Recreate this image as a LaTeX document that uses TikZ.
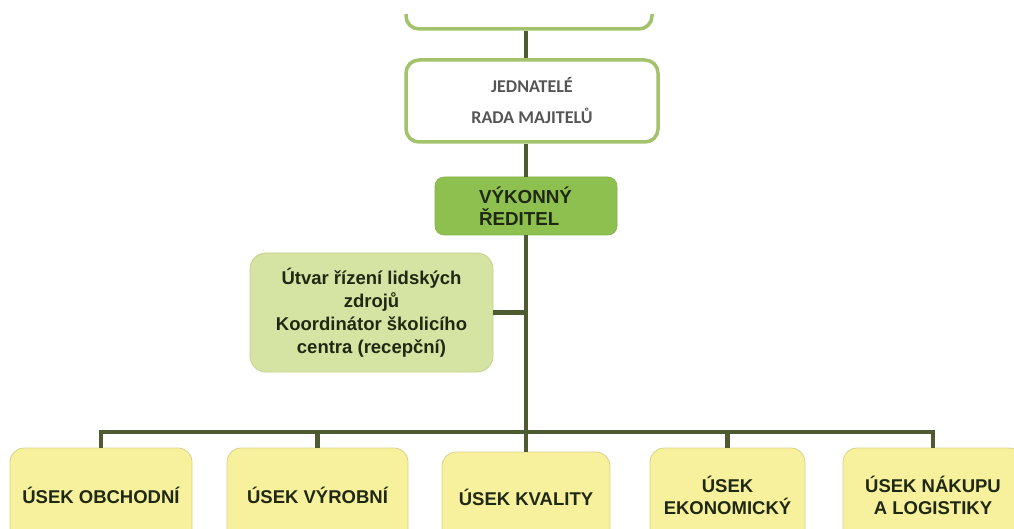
\documentclass[tikz,border=0pt]{standalone}
\usepackage{fontspec}
\setmainfont{Liberation Sans}
\newfontfamily\carlitofont{Carlito}
\definecolor{lineC}{HTML}{4E5B31}
\definecolor{topborder}{HTML}{A2C36A}
\definecolor{ceofill}{HTML}{8DC04F}
\definecolor{ceoborder}{HTML}{82B245}
\definecolor{ceotext}{HTML}{1F2912}
\definecolor{hrfill}{HTML}{D5E3A3}
\definecolor{hrborder}{HTML}{C2D48C}
\definecolor{yfill}{HTML}{F7F09C}
\definecolor{yborder}{HTML}{D8D28A}
\definecolor{graytext}{HTML}{555555}
\tikzset{
  conn/.style={draw=lineC, line width=4.5pt},
  whitebox/.style={draw=topborder, line width=3.5pt, fill=white, rounded corners=13pt, inner sep=0pt},
  ceobox/.style={draw=ceoborder, line width=0.6pt, fill=ceofill, rounded corners=9pt, inner sep=0pt,
     font=\fontsize{18.8}{22}\selectfont\bfseries, text=ceotext, align=left},
  hrbox/.style={draw=hrborder, line width=0.8pt, fill=hrfill, rounded corners=16pt, inner sep=0pt,
     font=\fontsize{18.5}{23}\selectfont\bfseries, text=ceotext, align=center},
  ybox/.style={draw=yborder, line width=0.8pt, fill=yfill, rounded corners=14pt, inner sep=0pt,
     font=\fontsize{18.5}{22}\selectfont\bfseries, text=ceotext, align=center},
}
\begin{document}
\begin{tikzpicture}[x=1pt,y=-1pt]
\useasboundingbox (0,0) rectangle (1014,529);
\clip (0,0) rectangle (1014,529);
\coordinate (sp) at (526,0);
\coordinate (bus) at (526,432);
% top partial box
\begin{scope}
\clip (0,15) rectangle (1014,529);
\node[whitebox, minimum width=246pt, minimum height=58pt] (top) at (529,0) {};
\end{scope}
\node[whitebox, minimum width=252pt, minimum height=82pt, align=center, text=graytext,
      font=\carlitofont\fontsize{18}{22}\selectfont\bfseries] (jed) at (532,101)
      {JEDNATELÉ\\[9pt]RADA MAJITELŮ};
\node[ceobox, minimum width=182pt, minimum height=58pt] (ceo) at (526,206)
      {\hspace*{-1pt}VÝKONNÝ\\\hspace*{-1pt}ŘEDITEL};
\node[hrbox, minimum width=243pt, minimum height=119pt] (hr) at (371.5,312.5)
      {Útvar řízení lidských\\zdrojů\\Koordinátor školicího\\centra (recepční)};
\node[ybox, minimum width=182pt, minimum height=95pt] (b1) at (101,495.5) {ÚSEK OBCHODNÍ};
\node[ybox, minimum width=181pt, minimum height=95pt] (b2) at (317.5,495.5) {ÚSEK VÝROBNÍ};
\node[ybox, minimum width=168pt, minimum height=91pt] (b3) at (526,497.5) {ÚSEK KVALITY};
\node[ybox, minimum width=155pt, minimum height=95pt] (b4) at (727.5,495.5) {ÚSEK\\EKONOMICKÝ};
\node[ybox, minimum width=180pt, minimum height=95pt] (b5) at (933,495.5) {ÚSEK NÁKUPU\\A LOGISTIKY};
% connectors
\draw[conn] (top.south -| sp) -- (jed.north -| sp);
\draw[conn] (jed.south -| sp) -- (ceo.north -| sp);
\draw[conn] (ceo.south -| sp) -- (bus);
\draw[conn] (hr.east) -- (hr.east -| sp);
\draw[conn, line cap=rect] (b1.north |- bus) -- (b5.north |- bus);
\draw[conn] (b1.north |- bus) -- (b1.north);
\draw[conn] (b2.north |- bus) -- (b2.north);
\draw[conn] (bus) -- (b3.north);
\draw[conn] (b4.north |- bus) -- (b4.north);
\draw[conn] (b5.north |- bus) -- (b5.north);
\end{tikzpicture}
\end{document}
